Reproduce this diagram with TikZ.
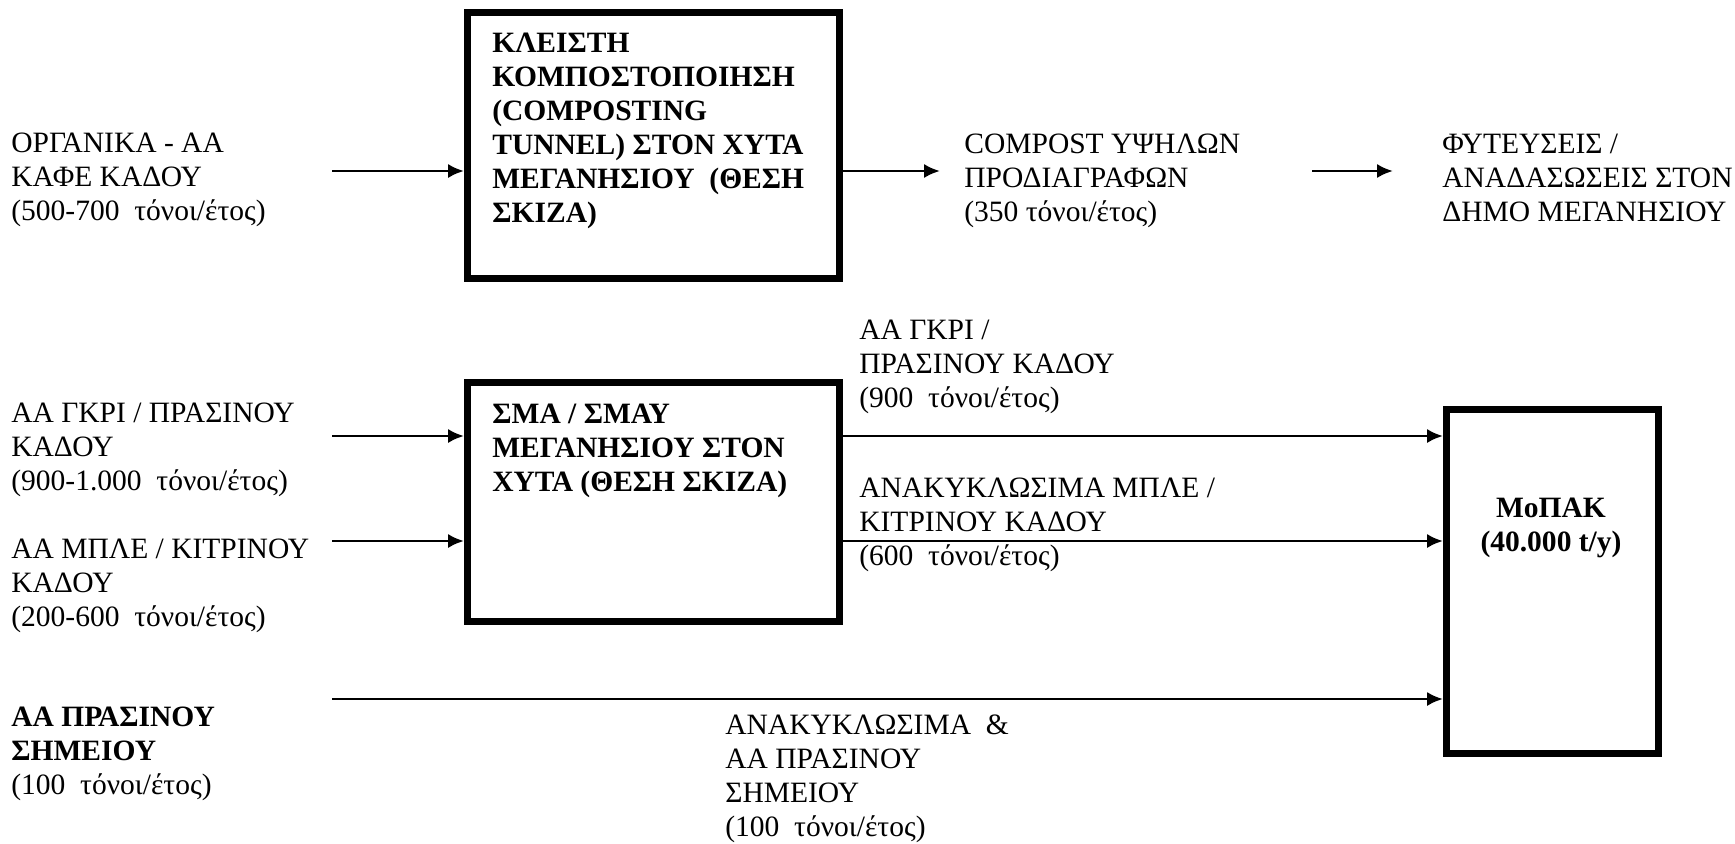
\documentclass[tikz,border=0pt]{standalone}
\usepackage{fontspec}
\setmainfont{Liberation Serif}
\usetikzlibrary{arrows.meta, positioning}

\begin{document}
\begin{tikzpicture}[x=0.02cm, y=-0.02cm, >={Latex[length=9pt, width=8pt]}, font=\fontsize{16.8}{19.35}\selectfont, box/.style={draw, line width=4pt, inner sep=0pt, minimum width=7.44cm}, txt/.style={anchor=base west, align=left, inner sep=0pt}, btxt/.style={txt, font=\fontsize{16.8}{19.35}\selectfont\bfseries}, flow/.style={->, line width=1.6pt}]
\useasboundingbox (0,0) rectangle (1735,843);
\node[box, minimum height=5.32cm] (kleisti) at (653.5,145.5) {};
\node[box, minimum height=4.78cm] (sma) at (653.5,502) {};
\node[box, minimum width=4.24cm, minimum height=6.88cm] (mopak) at (1552.5,581.5) {};
\node[btxt] (kleistitxt) at (492,222) {ΚΛΕΙΣΤΗ\\ΚΟΜΠΟΣΤΟΠΟΙΗΣΗ\\(COMPOSTING\\TUNNEL) ΣΤΟΝ ΧΥΤΑ\\ΜΕΓΑΝΗΣΙΟΥ~ (ΘΕΣΗ\\ΣΚΙΖΑ)};
\node[btxt] (smatxt) at (492,491) {ΣΜΑ / ΣΜΑΥ\\ΜΕΓΑΝΗΣΙΟΥ ΣΤΟΝ\\ΧΥΤΑ (ΘΕΣΗ ΣΚΙΖΑ)};
\node[btxt, anchor=base, align=center] (mopaktxt) at (1551,551) {ΜοΠΑΚ\\(40.000 t/y)};
\node[txt] (organika) at (11,220) {ΟΡΓΑΝΙΚΑ - ΑΑ\\ΚΑΦΕ ΚΑΔΟΥ\\(500-700~ τόνοι/έτος)};
\node[txt] (compost) at (964,221) {COMPOST ΥΨΗΛΩΝ\\ΠΡΟΔΙΑΓΡΑΦΩΝ\\(350 τόνοι/έτος)};
\node[txt] (fytefseis) at (1442,221) {ΦΥΤΕΥΣΕΙΣ /\\ΑΝΑΔΑΣΩΣΕΙΣ ΣΤΟΝ\\ΔΗΜΟ ΜΕΓΑΝΗΣΙΟΥ};
\node[txt] (grkadou) at (11,490) {ΑΑ ΓΚΡΙ / ΠΡΑΣΙΝΟΥ\\ΚΑΔΟΥ\\(900-1.000~ τόνοι/έτος)};
\node[txt] (mpkadou) at (11,626) {ΑΑ ΜΠΛΕ / ΚΙΤΡΙΝΟΥ\\ΚΑΔΟΥ\\(200-600~ τόνοι/έτος)};
\node[txt] (prsimeiou) at (11,794) {\textbf{ΑΑ ΠΡΑΣΙΝΟΥ}\\\textbf{ΣΗΜΕΙΟΥ}\\(100~ τόνοι/έτος)};
\node[txt] (grout) at (859,407) {ΑΑ ΓΚΡΙ /\\ΠΡΑΣΙΝΟΥ ΚΑΔΟΥ\\(900~ τόνοι/έτος)};
\node[txt] (anakout) at (859,565) {ΑΝΑΚΥΚΛΩΣΙΜΑ ΜΠΛΕ /\\ΚΙΤΡΙΝΟΥ ΚΑΔΟΥ\\(600~ τόνοι/έτος)};
\node[txt] (prout) at (725,836) {ΑΝΑΚΥΚΛΩΣΙΜΑ~ \&\\ΑΑ ΠΡΑΣΙΝΟΥ\\ΣΗΜΕΙΟΥ\\(100~ τόνοι/έτος)};
\coordinate (orgin) at (332,171);
\coordinate (compin) at (940,171);
\coordinate (fytstart) at (1312,171);
\coordinate (fytin) at (1393,171);
\coordinate (grin) at (332,436);
\coordinate (mpin) at (332,541);
\coordinate (prin) at (332,699);
\draw[flow] (orgin) -- (kleisti.west |- orgin);
\draw[flow] (kleisti.east |- orgin) -- (compin);
\draw[flow] (fytstart) -- (fytin);
\draw[flow] (grin) -- (sma.west |- grin);
\draw[flow] (mpin) -- (sma.west |- mpin);
\draw[flow] (sma.east |- grin) -- (mopak.west |- grin);
\draw[flow] (sma.east |- mpin) -- (mopak.west |- mpin);
\draw[flow] (prin) -- (mopak.west |- prin);
\end{tikzpicture}
\end{document}
